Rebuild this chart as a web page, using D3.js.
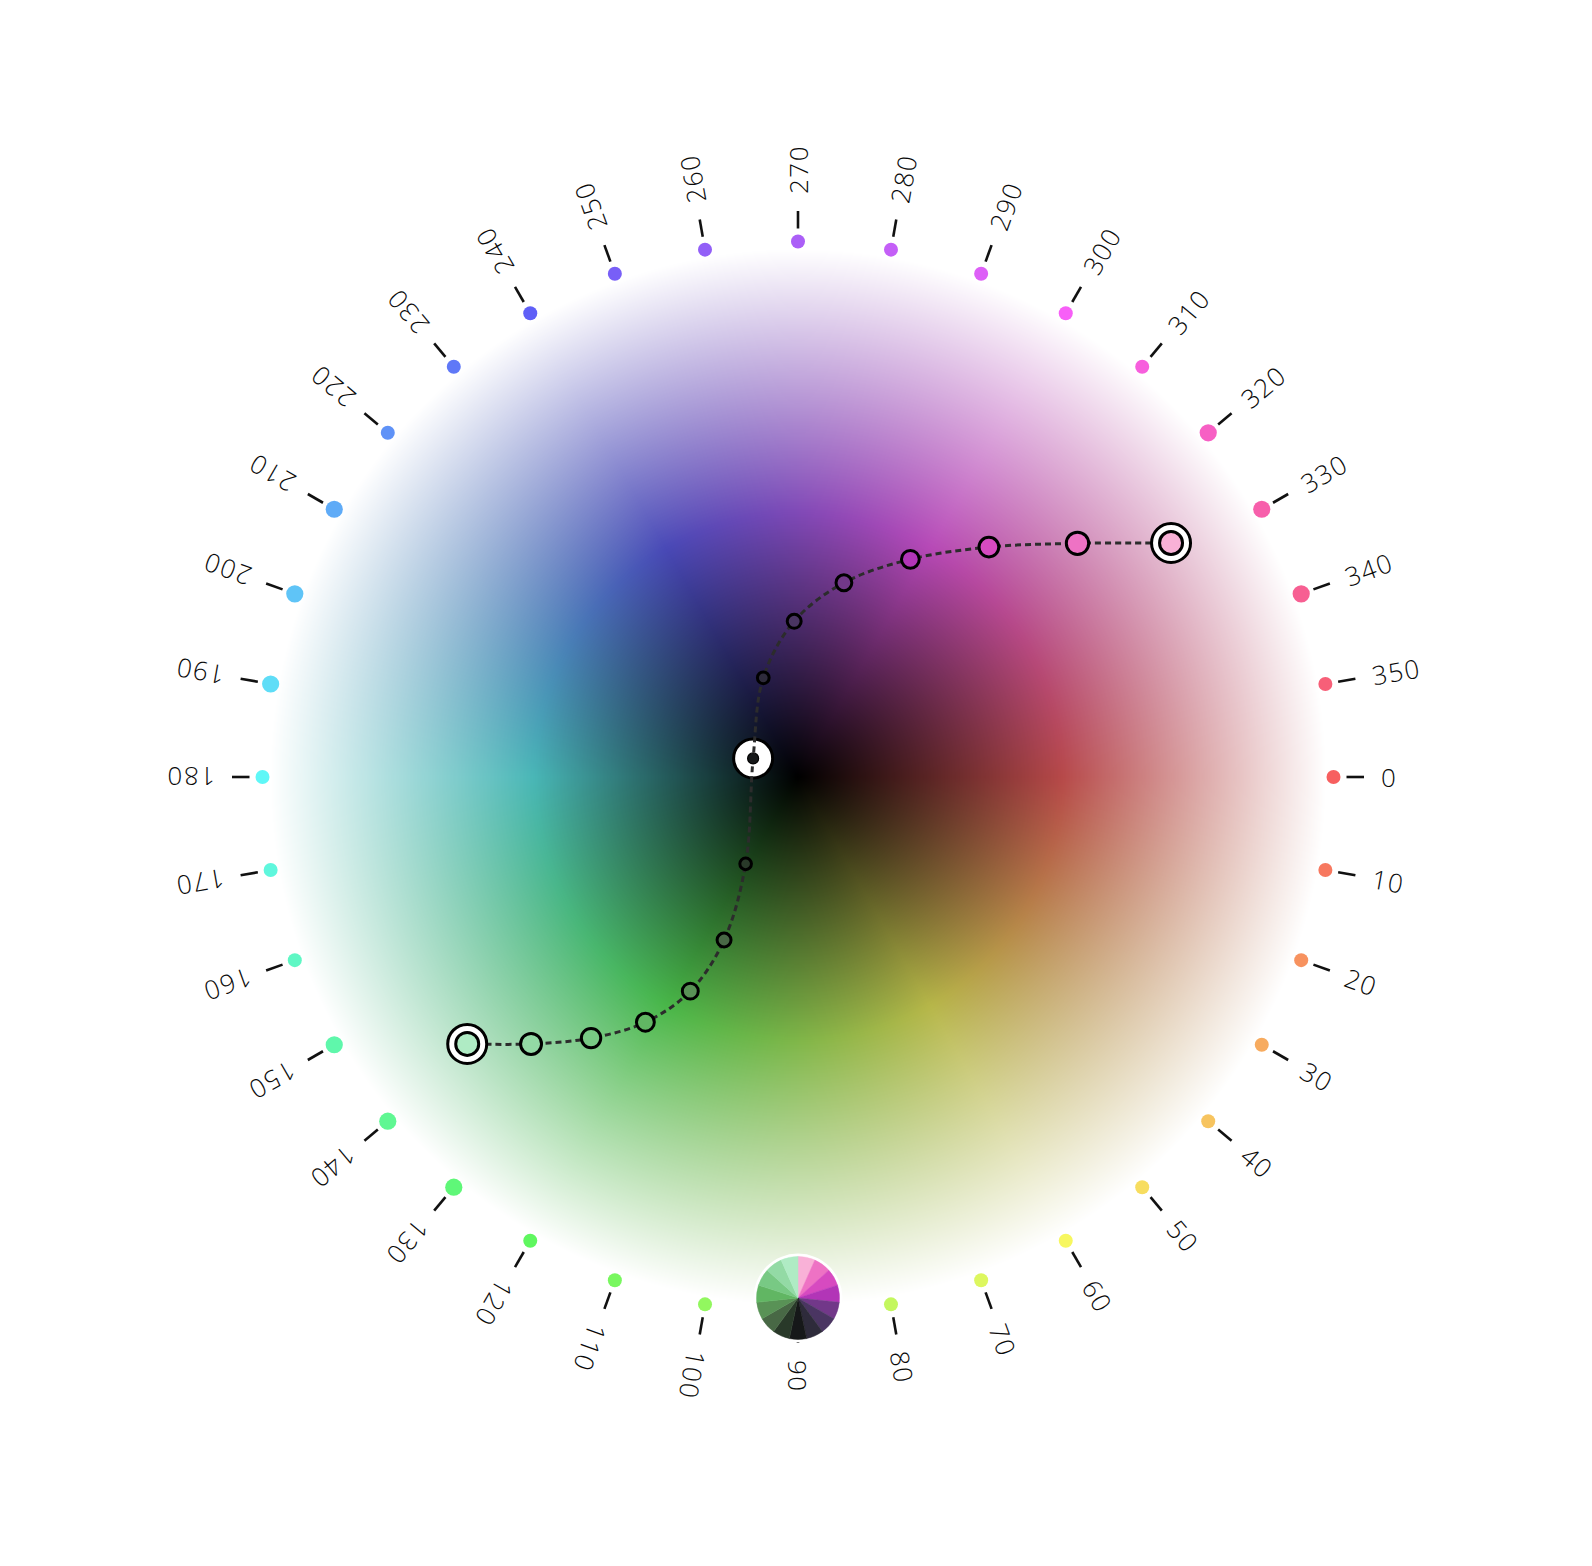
<!DOCTYPE html>
<html>
<head>
<meta charset="utf-8">
<script src="https://cdn.jsdelivr.net/npm/d3@7"></script>
<style>
  html, body { margin: 0; padding: 0; background: #ffffff; }
  svg { display: block; }
</style>
</head>
<body>
<svg id="chart" width="1592" height="1566"></svg>
<script>
// ---------------- DATA ----------------
const tickHues = [0, 10, 20, 30, 40, 50, 60, 70, 80, 90, 100, 110, 120, 130, 140, 150, 160, 170,
                  180, 190, 200, 210, 220, 230, 240, 250, 260, 270, 280, 290, 300, 310, 320, 330, 340, 350];
const tickLabels = tickHues.map(String);

// palette (pink -> dark -> green), read as HSL hue / saturation / lightness
const paletteHue   = [327.9, 320.1, 309.7, 297.3, 283.3, 268.6, 250.7, 202.5, 121.1, 114.4, 116.7, 121.9, 128.4, 135.0, 141.1];
const paletteSat   = [0.85, 0.78, 0.64, 0.55, 0.42, 0.30, 0.16, 0.05, 0.16, 0.20, 0.26, 0.37, 0.43, 0.49, 0.60];
const paletteLight = [0.834, 0.690, 0.566, 0.464, 0.378, 0.295, 0.199, 0.092, 0.192, 0.339, 0.454, 0.547, 0.631, 0.715, 0.805];
const endIndex = [0, 14];   // start & end colours
const midIndex = 7;         // middle colour

// ---------------- LAYOUT ----------------
const W = 1592, H = 1566;
const cx = 798, cy = 777;
const R = 528;             // wheel radius (lightness 1)
const dotR = 535.5, tick0 = 548.5, tick1 = 566, labelR = 583;
const discSat = 0.43;

const svg = d3.select('#chart');
const rad = d => d * Math.PI / 180;
const rScale = d3.scaleLinear().domain([0, 1]).range([0, R]);

// ---------------- WHEEL (canvas image) ----------------
(function drawDisc() {
  const size = 2 * R;
  const canvas = document.createElement('canvas');
  canvas.width = size; canvas.height = size;
  const ctx = canvas.getContext('2d');
  const img = ctx.createImageData(size, size);
  const HN = 720, LN = 512;
  const lut = new Uint8ClampedArray(HN * LN * 3);
  const lightOf = d3.scaleLinear().domain([0, LN - 1]).range([0, 1]);
  for (let hi = 0; hi < HN; hi++) {
    for (let li = 0; li < LN; li++) {
      const c = d3.hsl(hi * 360 / HN, discSat, lightOf(li)).rgb();
      const k = (hi * LN + li) * 3;
      lut[k] = c.r; lut[k + 1] = c.g; lut[k + 2] = c.b;
    }
  }
  const data = img.data;
  for (let y = 0; y < size; y++) {
    const dy = y + 0.5 - R;
    for (let x = 0; x < size; x++) {
      const dx = x + 0.5 - R;
      const r = Math.sqrt(dx * dx + dy * dy);
      const p = (y * size + x) * 4;
      if (r > R) { data[p + 3] = 0; continue; }
      let h = Math.atan2(dy, dx) * 180 / Math.PI;
      if (h < 0) h += 360;
      const hi = Math.min(HN - 1, Math.round(h / 360 * HN) % HN);
      const li = Math.min(LN - 1, Math.round(rScale.invert(r) * (LN - 1)));
      const k = (hi * LN + li) * 3;
      data[p] = lut[k]; data[p + 1] = lut[k + 1]; data[p + 2] = lut[k + 2]; data[p + 3] = 255;
    }
  }
  ctx.putImageData(img, 0, 0);
  svg.append('image')
    .attr('href', canvas.toDataURL())
    .attr('x', cx - R).attr('y', cy - R)
    .attr('width', size).attr('height', size);
})();

// ---------------- HUE RING: dots, ticks, labels ----------------
const keyHues = [paletteHue[endIndex[0]], paletteHue[midIndex], paletteHue[endIndex[1]]];
const hueDist = (a, b) => { const d = Math.abs(a - b) % 360; return Math.min(d, 360 - d); };
const dotSize = h => d3.min(keyHues, k => hueDist(h, k)) < 15 ? 8.6 : 7;

const ring = svg.append('g').attr('transform', `translate(${cx},${cy})`);

ring.selectAll('circle.hue')
  .data(tickHues)
  .join('circle')
  .attr('class', 'hue')
  .attr('cx', h => dotR * Math.cos(rad(h)))
  .attr('cy', h => dotR * Math.sin(rad(h)))
  .attr('r', dotSize)
  .attr('fill', h => d3.hsl(h, 0.9, 0.67).formatHex());

ring.selectAll('line.tick')
  .data(tickHues)
  .join('line')
  .attr('class', 'tick')
  .attr('x1', h => tick0 * Math.cos(rad(h)))
  .attr('y1', h => tick0 * Math.sin(rad(h)))
  .attr('x2', h => tick1 * Math.cos(rad(h)))
  .attr('y2', h => tick1 * Math.sin(rad(h)))
  .attr('stroke', '#111')
  .attr('stroke-width', 2.6);

ring.selectAll('text.lab')
  .data(tickHues)
  .join('text')
  .attr('class', 'lab')
  .attr('transform', h => `rotate(${h}) translate(${labelR},0)`)
  .attr('text-anchor', 'start')
  .attr('dominant-baseline', 'central')
  .attr('font-family', '"Open Sans", "Noto Sans", sans-serif')
  .attr('font-weight', 300)
  .attr('font-size', 26)
  .attr('letter-spacing', 1.5)
  .attr('fill', '#0a0a0a')
  .text((h, i) => tickLabels[i]);

// ---------------- PALETTE PATH ----------------
const pts = paletteHue.map((h, i) => ({
  i,
  h,
  s: paletteSat[i],
  l: paletteLight[i],
  x: cx + rScale(paletteLight[i]) * Math.cos(rad(h)),
  y: cy + rScale(paletteLight[i]) * Math.sin(rad(h)),
  color: d3.hsl(h, paletteSat[i], paletteLight[i]).formatHex()
}));

const gPath = svg.append('g');

// middle marker background (under the line)
const mid = pts[midIndex];
gPath.append('circle')
  .attr('cx', mid.x).attr('cy', mid.y).attr('r', 19.5)
  .attr('fill', '#ffffff').attr('stroke', '#000').attr('stroke-width', 3);

const line = d3.line().x(d => d.x).y(d => d.y).curve(d3.curveCatmullRom.alpha(0.5));
gPath.append('path')
  .attr('d', line(pts))
  .attr('fill', 'none')
  .attr('stroke', '#2c2c2c')
  .attr('stroke-width', 3)
  .attr('stroke-dasharray', '6 4');

const pointR = d => 4 + 7 * d.l + 3 * d.s;
const normal = pts.filter(d => d.i !== midIndex && !endIndex.includes(d.i));
gPath.selectAll('circle.pt')
  .data(normal)
  .join('circle')
  .attr('class', 'pt')
  .attr('cx', d => d.x).attr('cy', d => d.y)
  .attr('r', pointR)
  .attr('fill', d => d.color)
  .attr('stroke', '#000')
  .attr('stroke-width', 3);

const ends = pts.filter(d => endIndex.includes(d.i));
gPath.selectAll('circle.endOuter')
  .data(ends)
  .join('circle')
  .attr('class', 'endOuter')
  .attr('cx', d => d.x).attr('cy', d => d.y)
  .attr('r', 19.5)
  .attr('fill', '#ffffff').attr('stroke', '#000').attr('stroke-width', 3);
gPath.selectAll('circle.endInner')
  .data(ends)
  .join('circle')
  .attr('class', 'endInner')
  .attr('cx', d => d.x).attr('cy', d => d.y)
  .attr('r', 11.5)
  .attr('fill', d => d.color).attr('stroke', '#000').attr('stroke-width', 3);

gPath.append('circle')
  .attr('cx', mid.x).attr('cy', mid.y).attr('r', 5.5)
  .attr('fill', mid.color).attr('stroke', '#000').attr('stroke-width', 1.2);

// ---------------- PALETTE PIE ----------------
const pieG = svg.append('g').attr('transform', `translate(${cx},${cy + 521})`);
pieG.append('circle').attr('r', 44.5).attr('fill', '#ffffff');
const pie = d3.pie().sort(null).value(1);
const arc = d3.arc().innerRadius(0).outerRadius(41.5);
pieG.selectAll('path')
  .data(pie(pts))
  .join('path')
  .attr('d', arc)
  .attr('fill', d => d.data.color)
  .attr('stroke', d => d.data.color)
  .attr('stroke-width', 0.5);
</script>
</body>
</html>
